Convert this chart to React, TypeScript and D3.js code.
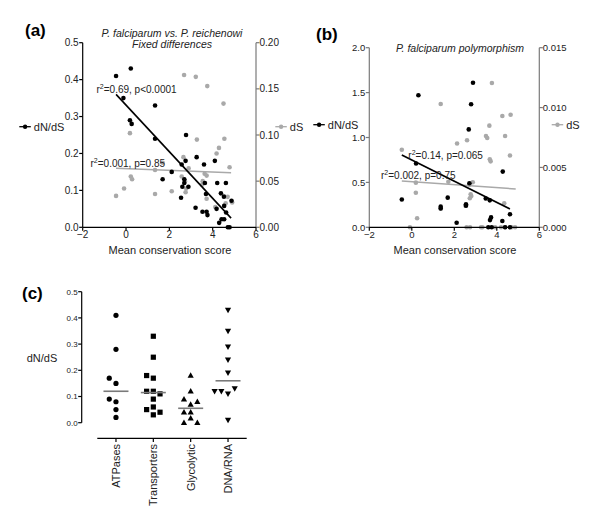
import React from "react";
import * as d3 from "d3";

// ---------- Data ----------
// Panel (a): P. falciparum vs P. reichenowi fixed differences
const aDnDsX = [-0.46, 0.22, -0.12, 0.18, 0.26, 1.34, 1.34, 2.77, 1.69, 2.11, 2.57, 2.75, 3.26, 3.6, 4.1, 2.69, 2.69, 2.6, 2.88, 2.54, 3.64, 3.21, 3.53, 3.72, 3.76, 3.69, 4.18, 4.21, 4.61, 4.38, 4.52, 4.53, 4.62, 4.3, 4.41, 4.53, 4.7, 4.78, 4.87];
const aDnDsY = [0.41, 0.43, 0.35, 0.29, 0.28, 0.33, 0.24, 0.25, 0.13, 0.15, 0.17, 0.18, 0.19, 0.17, 0.18, 0.13, 0.12, 0.11, 0.11, 0.08, 0.12, 0.053, 0.042, 0.042, 0.033, 0.09, 0.05, 0.12, 0.12, 0.092, 0.083, 0.058, 0.04, 0.012, 0.022, 0.022, 0.0, 0.0, 0.072];
const aDsX = [-0.46, -0.09, 0.18, 0.22, 0.28, 1.34, 1.34, 1.69, 2.11, 2.68, 3.22, 3.75, 4.5, 3.27, 4.54, 4.29, 4.18, 4.78, 2.65, 2.89, 2.57, 2.72, 2.78, 2.75, 3.63, 3.72, 3.54, 3.51, 3.72, 4.12, 4.69, 4.6, 4.9];
const aDsY = [0.034, 0.042, 0.102, 0.055, 0.052, 0.062, 0.036, 0.07, 0.039, 0.165, 0.163, 0.153, 0.134, 0.095, 0.096, 0.086, 0.08, 0.065, 0.076, 0.064, 0.055, 0.05, 0.042, 0.038, 0.058, 0.056, 0.05, 0.046, 0.031, 0.022, 0.033, 0.026, 0.027];
const aFitDnDs = [0.331, -0.0631]; // intercept, slope
const aFitDs = [0.0635, -0.00089];
const aFitRange = [-0.46, 4.85];

// Panel (b): P. falciparum polymorphism
const bDnDsX = [-0.47, 0.31, 0.2, 1.36, 1.36, 1.69, 2.11, 2.55, 2.55, 2.71, 3.48, 3.67, 4.28, 3.73, 3.68, 4.26, 4.62, 3.6, 3.76, 4.39, 4.62, 2.88, 2.79, 2.68];
const bDnDsY = [0.31, 1.47, 0.71, 0.23, 0.21, 0.33, 0.05, 0.256, 0.24, 0.49, 0.32, 0.3, 0.62, 0.11, 0.08, 0.07, 0.145, 0, 0, 0, 0, 1.61, 1.37, 1.09];
const bDsX = [-0.47, 0.19, 0.19, 0.25, -0.09, 1.36, 1.36, 2.13, 2.6, 1.72, 2.87, 2.71, 2.77, 2.8, 2.73, 2.53, 3.77, 3.65, 3.49, 3.55, 3.67, 3.71, 4.26, 4.65, 4.39, 4.62, 4.35, 2.58, 2.74, 3.26, 3.32, 3.92, 4.2, 4.39, 4.7, 4.86];
const bDsY = [0.00648, 0.00373, 0.00289, 0.00075, 0, 0.0103, 0.00156, 0.007, 0.00727, 0.0038, 0.00376, 0.00356, 0.00276, 0.00261, 0.00242, 0.0018, 0.01205, 0.00849, 0.00763, 0.00746, 0.00568, 0.00551, 0.0093, 0.0094, 0.00763, 0.006, 0.002, 0, 0, 0, 0, 0, 0, 0, 0, 0];
const bFitDnDs = [0.7495, -0.118];
const bFitDs = [0.00381, -0.000125];
const bFitRangeDnDs = [-0.47, 4.62];
const bFitRangeDs = [-0.47, 4.89];

// Panel (c): dN/dS by functional class
const cCategories = ["ATPases", "Transporters", "Glycolytic", "DNA/RNA"];
const cATPases = [0.41, 0.28, 0.15, 0.17, 0.08, 0.05, 0.02, 0.09];
const cTransporters = [0.33, 0.25, 0.17, 0.18, 0.12, 0.12, 0.11, 0.09, 0.06, 0.05, 0.04, 0.03];
const cGlycolytic = [0.18, 0.12, 0.07, 0.09, 0.08, 0.04, 0.04, 0.017, 0.0, 0.0];
const cDnaRna = [0.43, 0.35, 0.29, 0.24, 0.19, 0.11, 0.12, 0.13, 0.12, 0.01];
const cSeries = [cATPases, cTransporters, cGlycolytic, cDnaRna];

const xTicks = [-2, 0, 2, 4, 6];
const aLeftTicks = [0, 0.1, 0.2, 0.3, 0.4, 0.5];
const aRightTicks = [0, 0.05, 0.1, 0.15, 0.2];
const bLeftTicks = [0, 0.5, 1.0, 1.5, 2.0];
const bRightTicks = [0, 0.005, 0.01, 0.015];
const cTicks = [0, 0.1, 0.2, 0.3, 0.4, 0.5];

// ---------- Styling ----------
const FONT = "'Liberation Sans', Arial, Helvetica, sans-serif";
const GRAY = "#a9a9a9";
const AXIS_GRAY = "#7a7a7a";

function LeftAxis({ scale, x, ticks, fmt, fs, color = "#000" }: any) {
  const [r0, r1] = scale.range();
  return (
    <g>
      <line x1={x} x2={x} y1={r0} y2={r1} stroke={color} strokeWidth={1.2} />
      {ticks.map((t: number, i: number) => (
        <g key={i}>
          <line x1={x - 3.5} x2={x} y1={scale(t)} y2={scale(t)} stroke={color} strokeWidth={1.2} />
          <text x={x - 4} y={scale(t)} dy="0.35em" textAnchor="end" fontSize={fs} fill="#222">{fmt(t)}</text>
        </g>
      ))}
    </g>
  );
}

function RightAxis({ scale, x, ticks, fmt, fs }: any) {
  const [r0, r1] = scale.range();
  return (
    <g>
      <line x1={x} x2={x} y1={r0} y2={r1} stroke={AXIS_GRAY} strokeWidth={1.2} />
      {ticks.map((t: number, i: number) => (
        <g key={i}>
          <line x1={x} x2={x + 3.5} y1={scale(t)} y2={scale(t)} stroke={AXIS_GRAY} strokeWidth={1.2} />
          <text x={x + 3.5} y={scale(t)} dy="0.35em" textAnchor="start" fontSize={fs} fill="#222">{fmt(t)}</text>
        </g>
      ))}
    </g>
  );
}

function BottomAxis({ scale, y, ticks, fs }: any) {
  const [r0, r1] = scale.range();
  return (
    <g>
      <line x1={r0} x2={r1} y1={y} y2={y} stroke="#000" strokeWidth={1.2} />
      {ticks.map((t: number, i: number) => (
        <g key={i}>
          <line x1={scale(t)} x2={scale(t)} y1={y} y2={y + 3.5} stroke="#000" strokeWidth={1.2} />
          <text x={scale(t)} y={y + 11} textAnchor="middle" fontSize={fs} fill="#222">{d3.format("d")(t)}</text>
        </g>
      ))}
    </g>
  );
}

function R2Label({ x, y, r2, p, fs }: any) {
  return (
    <text x={x} y={y} fontSize={fs} fill="#222">
      <tspan>r</tspan>
      <tspan dy={-4} fontSize={fs * 0.7}>2</tspan>
      <tspan dy={4}>{`=${r2}, ${p}`}</tspan>
    </text>
  );
}

function LegendItem({ x, y, label, color, fs }: any) {
  return (
    <g>
      <line x1={x} x2={x + 11.5} y1={y} y2={y} stroke={color} strokeWidth={1.3} />
      <circle cx={x + 5.8} cy={y} r={2.2} fill={color} />
      <text x={x + 14.5} y={y} dy="0.35em" fontSize={fs} fill="#222">{label}</text>
    </g>
  );
}

function FitLine({ xs, ys, fit, range, color, width }: any) {
  const f = (v: number) => fit[0] + fit[1] * v;
  return (
    <line x1={xs(range[0])} x2={xs(range[1])} y1={ys(f(range[0]))} y2={ys(f(range[1]))} stroke={color} strokeWidth={width} />
  );
}

function beeswarm(values: number[], cx: number, y: any, step: number, minD: number) {
  const placed: { x: number; y: number }[] = [];
  const offs = [0, -1, 1, -2, 2, -3, 3];
  return values.map((v) => {
    const py = y(v);
    for (const k of offs) {
      const px = cx + k * step;
      if (placed.every((q) => !(Math.abs(q.x - px) < minD && Math.abs(q.y - py) < minD))) {
        placed.push({ x: px, y: py });
        return { x: px, y: py };
      }
    }
    placed.push({ x: cx, y: py });
    return { x: cx, y: py };
  });
}

function Marker({ kind, x, y }: any) {
  if (kind === 0) return <circle cx={x} cy={y} r={2.6} fill="#000" />;
  if (kind === 1) return <rect x={x - 2.6} y={y - 2.6} width={5.2} height={5.2} fill="#000" />;
  if (kind === 2) return <path d={`M${x},${y - 3.2}L${x + 3.1},${y + 2.3}L${x - 3.1},${y + 2.3}Z`} fill="#000" />;
  return <path d={`M${x},${y + 3.2}L${x + 3.1},${y - 2.3}L${x - 3.1},${y - 2.3}Z`} fill="#000" />;
}

export default function App() {
  // Panel (a) scales
  const axA = d3.scaleLinear().domain([-2, 6]).range([82.7, 256]);
  const ayA = d3.scaleLinear().domain([0, 0.5]).range([227.3, 42.7]);
  const ayA2 = d3.scaleLinear().domain([0, 0.2]).range([227.3, 42.7]);
  // Panel (b) scales
  const axB = d3.scaleLinear().domain([-2, 6]).range([369.3, 539.3]);
  const ayB = d3.scaleLinear().domain([0, 2]).range([227.3, 47.7]);
  const ayB2 = d3.scaleLinear().domain([0, 0.015]).range([227.3, 47.7]);
  // Panel (c) scales
  const cx = d3.scalePoint<string>().domain(cCategories).range([97.3, 246.7]).padding(0.5);
  const cy = d3.scaleLinear().domain([0, 0.5]).range([422.7, 291.7]);

  const f1 = d3.format(".1f");
  const f2 = d3.format(".2f");
  const f3 = d3.format(".3f");

  return (
    <svg width={600} height={532} style={{ position: "absolute", left: 0, top: 0, background: "#fff" }} fontFamily={FONT}>
      <rect width={600} height={532} fill="#fff" />

      {/* ---------- Panel (a) ---------- */}
      <text x={25} y={36} fontSize={17} fontWeight="bold">(a)</text>
      <text x={172} y={36.5} textAnchor="middle" fontSize={10.5} fontStyle="italic" fill="#222">P. falciparum vs. P. reichenowi</text>
      <text x={172} y={48.3} textAnchor="middle" fontSize={10.5} fontStyle="italic" fill="#222">Fixed differences</text>
      {aDsX.map((v, i) => (
        <circle key={"ag" + i} cx={axA(v)} cy={ayA2(aDsY[i])} r={2.3} fill={GRAY} />
      ))}
      <FitLine xs={axA} ys={ayA2} fit={aFitDs} range={aFitRange} color={GRAY} width={1.5} />
      {aDnDsX.map((v, i) => (
        <circle key={"ab" + i} cx={axA(v)} cy={ayA(aDnDsY[i])} r={2.3} fill="#000" />
      ))}
      <FitLine xs={axA} ys={ayA} fit={aFitDnDs} range={aFitRange} color="#000" width={1.6} />
      <R2Label x={96.5} y={93} r2="0.69" p="p<0.0001" fs={10} />
      <R2Label x={90.5} y={167} r2="0.001" p="p=0.85" fs={10} />
      <LeftAxis scale={ayA} x={82.7} ticks={aLeftTicks} fmt={f1} fs={10} />
      <RightAxis scale={ayA2} x={256} ticks={aRightTicks} fmt={f2} fs={10} />
      <BottomAxis scale={axA} y={227.3} ticks={xTicks} fs={10} />
      <text x={170} y={254} textAnchor="middle" fontSize={11} fill="#222">Mean conservation score</text>
      <LegendItem x={19.3} y={126.7} label="dN/dS" color="#000" fs={11} />
      <LegendItem x={275.3} y={126.7} label="dS" color={GRAY} fs={11} />

      {/* ---------- Panel (b) ---------- */}
      <text x={316} y={40} fontSize={17} fontWeight="bold">(b)</text>
      <text x={460} y={51.5} textAnchor="middle" fontSize={10.5} fontStyle="italic" fill="#222">P. falciparum polymorphism</text>
      {bDsX.map((v, i) => (
        <circle key={"bg" + i} cx={axB(v)} cy={ayB2(bDsY[i])} r={2.3} fill={GRAY} />
      ))}
      <FitLine xs={axB} ys={ayB2} fit={bFitDs} range={bFitRangeDs} color={GRAY} width={1.5} />
      {bDnDsX.map((v, i) => (
        <circle key={"bb" + i} cx={axB(v)} cy={ayB(bDnDsY[i])} r={2.3} fill="#000" />
      ))}
      <FitLine xs={axB} ys={ayB} fit={bFitDnDs} range={bFitRangeDnDs} color="#000" width={1.6} />
      <R2Label x={408.3} y={159} r2="0.14" p="p=0.065" fs={10} />
      <R2Label x={381} y={179} r2="0.002" p="p=0.75" fs={10} />
      <LeftAxis scale={ayB} x={369.3} ticks={bLeftTicks} fmt={f1} fs={9.5} color={AXIS_GRAY} />
      <RightAxis scale={ayB2} x={539.3} ticks={bRightTicks} fmt={f3} fs={9.5} />
      <BottomAxis scale={axB} y={227.3} ticks={xTicks} fs={9.5} />
      <text x={455} y={254} textAnchor="middle" fontSize={11} fill="#222">Mean conservation score</text>
      <LegendItem x={313.3} y={124.7} label="dN/dS" color="#000" fs={11} />
      <LegendItem x={551.7} y={124.7} label="dS" color={GRAY} fs={11} />

      {/* ---------- Panel (c) ---------- */}
      <text x={22} y={299} fontSize={17} fontWeight="bold">(c)</text>
      <text x={26.7} y={361.5} fontSize={11} fill="#222">dN/dS</text>
      <LeftAxis scale={cy} x={81.7} ticks={cTicks} fmt={f1} fs={8} />
      <line x1={97.3} x2={246.7} y1={438.3} y2={438.3} stroke="#000" strokeWidth={1.2} />
      {cCategories.map((c, ci) => {
        const center = cx(c) as number;
        const pts = beeswarm(cSeries[ci], center, cy, 6.7, 5.5);
        const med = d3.median(cSeries[ci]) as number;
        return (
          <g key={c}>
            <line x1={center} x2={center} y1={438.3} y2={442} stroke="#000" strokeWidth={1.2} />
            <text transform={`translate(${center + 4},${444}) rotate(-90)`} textAnchor="end" fontSize={11} fill="#222">{c}</text>
            {pts.map((p, i) => (
              <Marker key={i} kind={ci} x={p.x} y={p.y} />
            ))}
            <line x1={center - 12.5} x2={center + 12.5} y1={cy(med)} y2={cy(med)} stroke="#7a7a7a" strokeWidth={1.6} />
          </g>
        );
      })}
    </svg>
  );
}
